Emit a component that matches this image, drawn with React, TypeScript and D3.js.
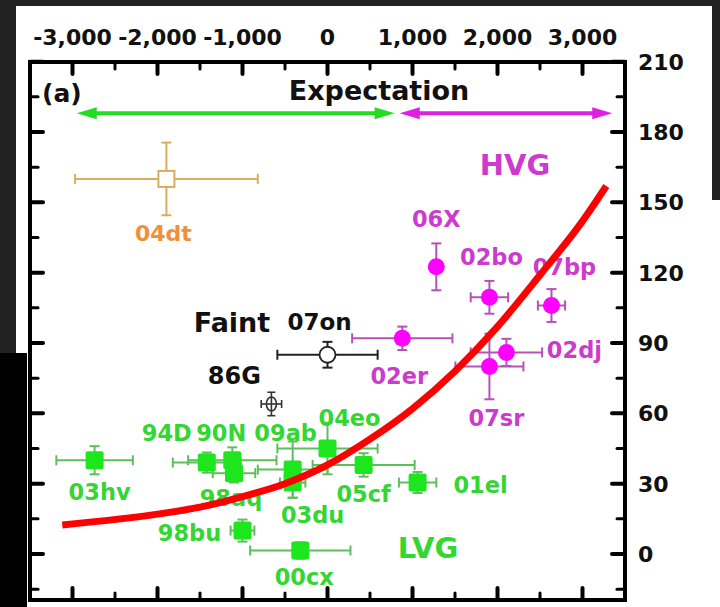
import React from "react";
import * as d3 from "d3";

// ---- axis ticks ----
const xTicks = [-3000, -2000, -1000, 0, 1000, 2000, 3000];
const xMinorTicks = [-2500, -1500, -500, 500, 1500, 2500];
const yTicks = [0, 30, 60, 90, 120, 150, 180, 210];
const yMinorTicks = [-15, 15, 45, 75, 105, 135, 165, 195];

// ---- LVG (green) ----
const lvgNames = ["03hv", "94D", "90N", "98aq", "09ab", "03du", "04eo", "05cf", "01el", "98bu", "00cx"];
const lvgX = [-2740, -1420, -1120, -1100, -410, -410, 0, 425, 1060, -1000, -320];
const lvgY = [40, 39, 40, 34.5, 36, 30.5, 45, 38, 30.5, 10, 1.5];
const lvgXErr = [450, 400, 520, 250, 410, 150, 590, 600, 220, 140, 590];
const lvgYErr = [6, 4.3, 5.5, 4, 12, 6.5, 11, 5, 4.5, 4.7, 3.5];

// ---- HVG (magenta) ----
const hvgNames = ["06X", "02bo", "07bp", "02er", "02dj", "07sr"];
const hvgX = [1280, 1905, 2635, 880, 2105, 1905];
const hvgY = [122.5, 109.5, 106, 92, 86, 80];
const hvgXErr = [0, 220, 160, 590, 420, 400];
const hvgYErr = [10, 7, 7, 5, 5.8, 14];

// ---- faint (black) ----
const faintNames = ["07on", "86G"];
const faintX = [0, -660];
const faintY = [85, 64];
const faintXErr = [590, 120];
const faintYErr = [5.5, 5];

// ---- 04dt (orange) ----
const oddNames = ["04dt"];
const oddX = [-1895];
const oddY = [160];
const oddXErr = [1075];
const oddYErr = [15.5];

// ---- red trend curve ----
const curveX = [-3120, -2000, -1500, -1000, -500, 0, 500, 1000, 1500, 2000, 2500, 3000, 3280];
const curveY = [12.4, 17, 20, 24.5, 30, 38, 49, 62, 78, 97, 119, 142, 157];

// ---- expectation arrows ----
const arrowStart = [-2950, 850];
const arrowEnd = [790, 3350];
const arrowLevel = 188;

// ---- layout (label offsets in px, not data) ----
const lvgLabelOff = [[5, 40], [-40, -22], [-11, -19], [-3, 33], [-7, -29], [20, 40], [22, -23], [0, 37], [63, 10], [-53, 10], [4, 35]];
const hvgLabelOff = [[0, -40], [2, -32], [13, -31], [-3, 46], [68, 6], [7, 60]];
const faintLabelOff = [[-8, -25], [-37, -20]];
const oddLabelOff = [[-3, 62]];

const FONT = "'DejaVu Sans', Verdana, sans-serif";
const fmt = d3.formatLocale({ decimal: ".", thousands: ",", grouping: [3], currency: ["$", ""], minus: "-" }).format(",");

const x = d3.scaleLinear().domain([-3500, 3500]).range([30, 625]);
const y = d3.scaleLinear().domain([-20, 210]).range([600.9, 61.7]);

function ErrBar({ cx, cy, xe, ye, color, w = 2, cap = 5 }: any) {
  const x0 = x(cx - xe), x1 = x(cx + xe), y0 = y(cy - ye), y1 = y(cy + ye);
  const px = x(cx), py = y(cy);
  return (
    <g stroke={color} strokeWidth={w} fill="none">
      {xe > 0 && <>
        <line x1={x0} x2={x1} y1={py} y2={py} />
        <line x1={x0} x2={x0} y1={py - cap} y2={py + cap} />
        <line x1={x1} x2={x1} y1={py - cap} y2={py + cap} />
      </>}
      {ye > 0 && <>
        <line x1={px} x2={px} y1={y0} y2={y1} />
        <line x1={px - cap} x2={px + cap} y1={y0} y2={y0} />
        <line x1={px - cap} x2={px + cap} y1={y1} y2={y1} />
      </>}
    </g>
  );
}

export default function App() {
  const line = d3.line<number>().x((_, i) => x(curveX[i])).y((_, i) => y(curveY[i])).curve(d3.curveMonotoneX);
  const curvePath = line(curveX) || "";

  const green = "#1ee61e", greenBar = "#5cbf5c", greenText = "#33d633";
  const mag = "#ff00ff", magBar = "#b652b6", magText = "#cc3ccc";
  const tan = "#d8ae5c", orangeText = "#f0913a";

  const arrowColors = ["#22dd22", "#e020e0"];
  const ay = y(arrowLevel);

  return (
    <svg width={720} height={607} style={{ position: "absolute", left: 0, top: 0, display: "block" }}>
      <rect x={0} y={0} width={720} height={607} fill="#222222" />
      <rect x={16} y={6} width={704} height={601} fill="#ffffff" />
      <rect x={712} y={0} width={8} height={200} fill="#222222" />
      <rect x={0} y={353} width={27} height={254} fill="#000000" />

      {/* frame */}
      <rect x={30} y={62} width={595} height={538} fill="none" stroke="#000" strokeWidth={4} />

      {/* ticks */}
      <g stroke="#000" strokeLinecap="round">
        {xTicks.map((t) => (
          <g key={"xt" + t} strokeWidth={4}>
            <line x1={x(t)} x2={x(t)} y1={62} y2={74} />
            <line x1={x(t)} x2={x(t)} y1={600} y2={588} />
          </g>
        ))}
        {xMinorTicks.map((t) => (
          <g key={"xm" + t} strokeWidth={3}>
            <line x1={x(t)} x2={x(t)} y1={62} y2={69} />
            <line x1={x(t)} x2={x(t)} y1={600} y2={593} />
          </g>
        ))}
        {yTicks.map((t) => (
          <g key={"yt" + t} strokeWidth={4}>
            <line x1={30} x2={43} y1={y(t)} y2={y(t)} />
            <line x1={625} x2={612} y1={y(t)} y2={y(t)} />
          </g>
        ))}
        {yMinorTicks.map((t) => (
          <g key={"ym" + t} strokeWidth={3}>
            <line x1={30} x2={38} y1={y(t)} y2={y(t)} />
            <line x1={625} x2={617} y1={y(t)} y2={y(t)} />
          </g>
        ))}
      </g>

      {/* tick labels */}
      <g fontFamily={FONT} fontWeight="bold" fontSize={22} fill="#111">
        {xTicks.map((t) => (
          <text key={"xl" + t} x={x(t)} y={45} textAnchor="middle">{fmt(t)}</text>
        ))}
        {yTicks.map((t) => (
          <text key={"yl" + t} x={638} y={y(t) + 8}>{t}</text>
        ))}
      </g>

      {/* arrows */}
      {arrowStart.map((s, i) => {
        const a = x(s), b = x(arrowEnd[i]);
        const c = arrowColors[i];
        return (
          <g key={"ar" + i} fill={c}>
            <line x1={a + 15} x2={b - 15} y1={ay} y2={ay} stroke={c} strokeWidth={4} />
            <path d={`M${a},${ay} L${a + 20},${ay - 6} L${a + 20},${ay + 6} Z`} />
            <path d={`M${b},${ay} L${b - 20},${ay - 6} L${b - 20},${ay + 6} Z`} />
          </g>
        );
      })}

      {/* texts */}
      <g fontFamily={FONT} fontWeight="bold">
        <text x={42} y={102} fontSize={25} fill="#111">(a)</text>
        <text x={379} y={100} fontSize={27} fill="#111" textAnchor="middle">Expectation</text>
        <text x={515} y={175} fontSize={29} fill={magText} textAnchor="middle">HVG</text>
        <text x={428} y={558} fontSize={29} fill={greenText} textAnchor="middle">LVG</text>
        <text x={232} y={332} fontSize={27} fill="#111" textAnchor="middle">Faint</text>
      </g>

      {/* error bars */}
      {lvgNames.map((n, i) => (
        <ErrBar key={"ge" + n} cx={lvgX[i]} cy={lvgY[i]} xe={lvgXErr[i]} ye={lvgYErr[i]} color={greenBar} />
      ))}
      {hvgNames.map((n, i) => (
        <ErrBar key={"me" + n} cx={hvgX[i]} cy={hvgY[i]} xe={hvgXErr[i]} ye={hvgYErr[i]} color={magBar} />
      ))}
      {oddNames.map((n, i) => (
        <ErrBar key={"oe" + n} cx={oddX[i]} cy={oddY[i]} xe={oddXErr[i]} ye={oddYErr[i]} color={tan} />
      ))}
      <ErrBar cx={faintX[0]} cy={faintY[0]} xe={faintXErr[0]} ye={faintYErr[0]} color="#222" />

      {/* markers */}
      {lvgNames.map((n, i) => (
        <rect key={"gm" + n} x={x(lvgX[i]) - 9} y={y(lvgY[i]) - 9} width={18} height={18} rx={2} fill={green} />
      ))}
      {hvgNames.map((n, i) => (
        <circle key={"mm" + n} cx={x(hvgX[i])} cy={y(hvgY[i])} r={8.5} fill={mag} />
      ))}
      {oddNames.map((n, i) => (
        <rect key={"om" + n} x={x(oddX[i]) - 8} y={y(oddY[i]) - 8} width={16} height={16} fill="#fff" stroke={tan} strokeWidth={2} />
      ))}
      <circle cx={x(faintX[0])} cy={y(faintY[0])} r={8} fill="#fff" stroke="#222" strokeWidth={1.8} />
      <ellipse cx={x(faintX[1])} cy={y(faintY[1])} rx={5} ry={7} fill="#fff" stroke="#333" strokeWidth={1.6} />
      <ErrBar cx={faintX[1]} cy={faintY[1]} xe={faintXErr[1]} ye={faintYErr[1]} color="#333" w={1.6} cap={4} />

      {/* point labels */}
      <g fontFamily={FONT} fontWeight="bold" fontSize={22.5} textAnchor="middle">
        {lvgNames.map((n, i) => (
          <text key={"gl" + n} x={x(lvgX[i]) + lvgLabelOff[i][0]} y={y(lvgY[i]) + lvgLabelOff[i][1]} fill={greenText}>{n}</text>
        ))}
        {hvgNames.map((n, i) => (
          <text key={"ml" + n} x={x(hvgX[i]) + hvgLabelOff[i][0]} y={y(hvgY[i]) + hvgLabelOff[i][1]} fill={magText}>{n}</text>
        ))}
        {faintNames.map((n, i) => (
          <text key={"fl" + n} x={x(faintX[i]) + faintLabelOff[i][0]} y={y(faintY[i]) + faintLabelOff[i][1]} fill="#111" fontSize={i === 1 ? 24 : 23}>{n}</text>
        ))}
        {oddNames.map((n, i) => (
          <text key={"ol" + n} x={x(oddX[i]) + oddLabelOff[i][0]} y={y(oddY[i]) + oddLabelOff[i][1]} fill={orangeText} fontSize={22}>{n}</text>
        ))}
      </g>

      {/* red trend */}
      <path d={curvePath} fill="none" stroke="#ff0000" strokeWidth={7} />
    </svg>
  );
}
